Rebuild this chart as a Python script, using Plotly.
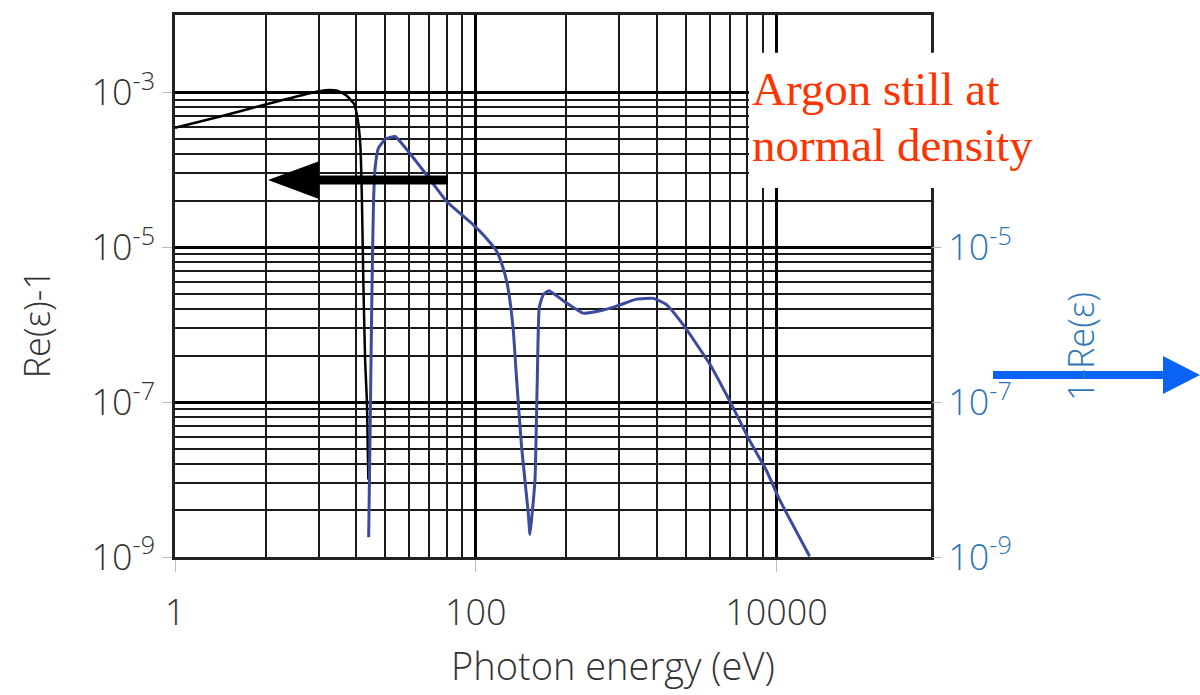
import plotly.graph_objects as go

# ---- data ----
re_energy = [1.0, 2.0, 4.0, 8.3, 10.0, 12.0, 13.8, 15.5, 16.4, 17.1, 17.5, 17.9, 18.4, 18.9, 19.3]
re_value = [3.5e-4, 4.9e-4, 7.0e-4, 1.0e-3, 1.07e-3, 1.05e-3, 9.1e-4, 7.1e-4, 4.5e-4, 2.0e-4,
            4.0e-5, 3.2e-6, 3.2e-7, 1.0e-7, 1.0e-8]

im_energy = [19.4, 19.9, 20.4, 20.9, 21.4, 22.5, 25.1, 29.1, 35.5, 47.3, 64.1, 96.4, 114.8, 137.7,
             148.0, 160.7, 169.0, 178.0, 187.1, 201.8, 223.4, 229.1, 235.5, 247.7, 256.4, 264.2,
             281.2, 306.9, 382.0, 518.8, 635.3, 863.0, 1172.0, 1514.0, 1854.0, 2393.0, 3597.0,
             5140.0, 6622.0, 8551.0, 10471.0, 16596.0]
im_value = [1.8e-9, 7.1e-8, 2.75e-6, 3.9e-5, 1.05e-4, 1.9e-4, 2.5e-4, 2.7e-4, 1.74e-4, 8.5e-5,
            3.9e-5, 1.95e-5, 1.38e-5, 8.9e-6, 6.3e-6, 3.6e-6, 2.0e-6, 8.0e-7, 1.9e-7, 2.6e-8,
            3.7e-9, 1.95e-9, 3.2e-9, 1.0e-8, 1.9e-7, 1.66e-6, 2.45e-6, 2.75e-6, 2.04e-6, 1.41e-6,
            1.48e-6, 1.74e-6, 2.14e-6, 2.19e-6, 1.82e-6, 1.0e-6, 3.1e-7, 8.5e-8, 3.2e-8, 1.32e-8,
            5.5e-9, 1.02e-9]

x_major = [1, 100, 10000]
x_major_text = ["1", "100", "10000"]
x_minor = [n * n * b for b in (1, 100) for n in range(2, 10)]
y_major_left = [1e-9, 1e-7, 1e-5, 1e-3]
y_major_left_text = ["10<sup>-9</sup>", "10<sup>-7</sup>", "10<sup>-5</sup>", "10<sup>-3</sup>"]
y_major_right = [1e-9, 1e-7, 1e-5]
y_major_right_text = ["10<sup>-9</sup>", "10<sup>-7</sup>", "10<sup>-5</sup>"]
y_minor = [n * n * b for b in (1e-9, 1e-7, 1e-5) for n in range(2, 10)]

x_title = "Photon energy (eV)"
y_left_title = "Re(ε)-1"
y_right_title = "1-Re(ε)"
note_lines = ["Argon still at", "normal density"]

FONT = "Open Sans"
WEIGHT = 300
GREY = "#333333"
BLUE_TXT = "#2f76b3"

fig = go.Figure()
fig.add_trace(go.Scatter(x=re_energy, y=re_value, mode="lines",
                         line=dict(color="black", width=2.5, shape="spline", smoothing=0.5),
                         showlegend=False, yaxis="y"))
fig.add_trace(go.Scatter(x=im_energy, y=im_value, mode="lines",
                         line=dict(color="#3b4a9c", width=3, shape="spline", smoothing=0.4),
                         showlegend=False, yaxis="y2"))

YR = [-9, -2.0]
fig.update_layout(
    width=1200, height=695,
    margin=dict(l=175, r=269, t=12, b=138),
    paper_bgcolor="white", plot_bgcolor="white",
    xaxis=dict(type="log", range=[0, 5.027],
               tickmode="array", tickvals=x_major, ticktext=x_major_text,
               showgrid=True, gridcolor="black", gridwidth=3,
               ticks="outside", ticklen=12, tickcolor="#bbbbbb", tickwidth=1,
               tickfont=dict(family=FONT, size=36, color=GREY, weight=WEIGHT),
               ticklabelstandoff=10,
               minor=dict(tickmode="array", tickvals=x_minor, showgrid=True,
                          gridcolor="#1a1a1a", gridwidth=1.5, ticks=""),
               showline=True, mirror=True, linecolor="#222", linewidth=2.5,
               zeroline=False),
    yaxis=dict(type="log", range=YR,
               tickmode="array", tickvals=y_major_left, ticktext=y_major_left_text,
               showgrid=True, gridcolor="black", gridwidth=3,
               ticks="outside", ticklen=10, tickcolor="#bbbbbb", tickwidth=1,
               tickfont=dict(family=FONT, size=36, color=GREY, weight=WEIGHT),
               minor=dict(tickmode="array", tickvals=y_minor, showgrid=True,
                          gridcolor="#1a1a1a", gridwidth=1.5, ticks=""),
               showline=True, mirror=True, linecolor="#222", linewidth=2.5,
               zeroline=False),
    yaxis2=dict(type="log", range=YR, overlaying="y", side="right",
                tickmode="array", tickvals=y_major_right, ticktext=y_major_right_text,
                showgrid=False, ticks="outside", ticklen=9, tickcolor="#9fb8cc",
                tickfont=dict(family=FONT, size=36, color=BLUE_TXT, weight=WEIGHT),
                showline=False, zeroline=False),
)

def px2x(px):
    return (px - 175) / 756.0

def px2y(py):
    return (557.0 - py) / 545.0

shapes = []
# white box behind the note
shapes.append(dict(type="rect", xref="paper", yref="paper",
                   x0=px2x(749), x1=px2x(1042), y0=px2y(186), y1=px2y(50),
                   fillcolor="white", line=dict(width=0), layer="above"))
# black arrow (pointing left)
shapes.append(dict(type="line", xref="paper", yref="paper",
                   x0=px2x(314), x1=px2x(448), y0=px2y(178), y1=px2y(178),
                   line=dict(color="black", width=9), layer="above"))
shapes.append(dict(type="path", xref="paper", yref="paper",
                   path="M {} {} L {} {} L {} {} Z".format(px2x(268), px2y(178), px2x(319), px2y(159),
                                                           px2x(319), px2y(197)),
                   fillcolor="black", line=dict(width=0), layer="above"))
# blue arrow (pointing right)
shapes.append(dict(type="line", xref="paper", yref="paper",
                   x0=px2x(993), x1=px2x(1166), y0=px2y(374), y1=px2y(374),
                   line=dict(color="#0b63f6", width=8), layer="above"))
shapes.append(dict(type="path", xref="paper", yref="paper",
                   path="M {} {} L {} {} L {} {} Z".format(px2x(1200), px2y(374), px2x(1163), px2y(355),
                                                           px2x(1163), px2y(393)),
                   fillcolor="#0b63f6", line=dict(width=0), layer="above"))
fig.update_layout(shapes=shapes)

for i, line in enumerate(note_lines):
    fig.add_annotation(xref="paper", yref="paper", x=px2x(750), y=px2y(86 + 57 * i),
                       xanchor="left", yanchor="middle", showarrow=False,
                       text=line, font=dict(family="Liberation Serif", size=47, color="#ff3300"))

# axis titles
fig.add_annotation(xref="paper", yref="paper", x=px2x(613), y=px2y(666),
                   xanchor="center", yanchor="middle", showarrow=False,
                   text=x_title, font=dict(family=FONT, size=38, color=GREY, weight=WEIGHT))
fig.add_annotation(xref="paper", yref="paper", x=px2x(36), y=px2y(323),
                   xanchor="center", yanchor="middle", showarrow=False, textangle=-90,
                   text=y_left_title, font=dict(family=FONT, size=36, color=GREY, weight=WEIGHT))
fig.add_annotation(xref="paper", yref="paper", x=px2x(1080), y=px2y(346),
                   xanchor="center", yanchor="middle", showarrow=False, textangle=-90,
                   text=y_right_title, font=dict(family=FONT, size=36, color=BLUE_TXT, weight=WEIGHT))

fig.write_html("out.html", config={"displayModeBar": False},
               post_script="document.body.style.margin='0px';")
